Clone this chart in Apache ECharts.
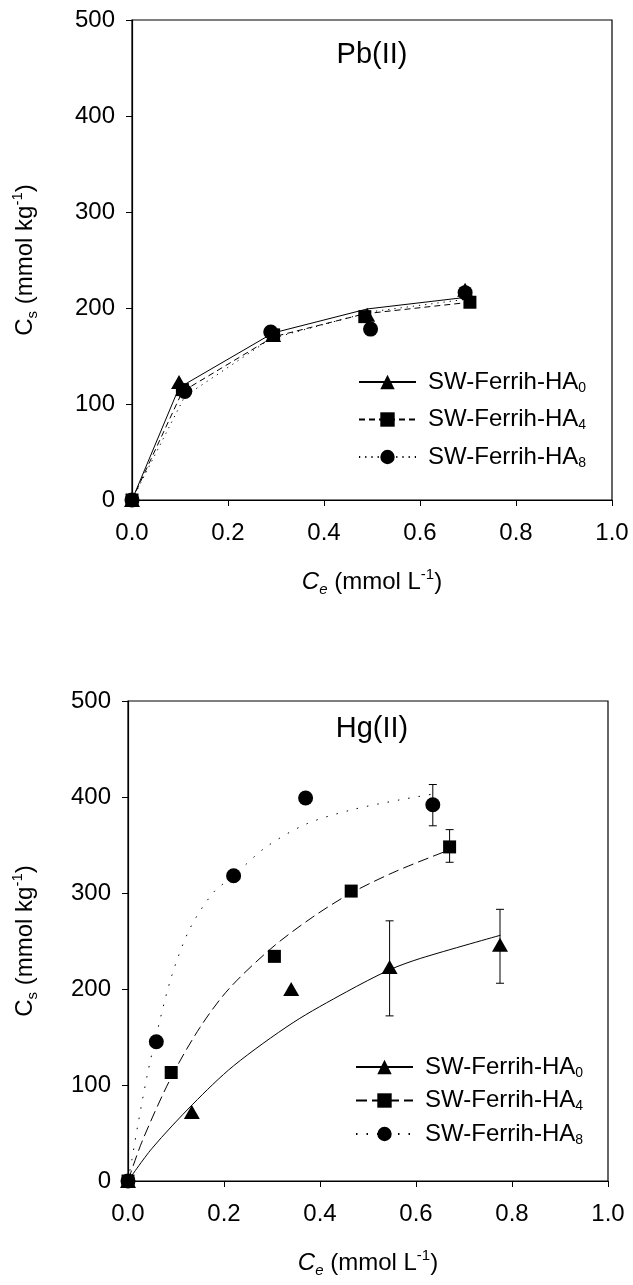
<!DOCTYPE html>
<html>
<head>
<meta charset="utf-8">
<script src="https://cdn.jsdelivr.net/npm/echarts/dist/echarts.min.js"></script>
<style>
html, body { margin: 0; padding: 0; background: #fff; }
#chart { width: 633px; height: 1285px; }
</style>
</head>
<body>
<div id="chart"></div>
<script>
// Pb(II) measured points
var pbX0 = [0, 0.098, 0.294, 0.49, 0.694];
var pbY0 = [0, 123, 172, 193, 219];
var pbX4 = [0, 0.105, 0.295, 0.485, 0.704];
var pbY4 = [0, 115, 172, 191, 206];
var pbX8 = [0, 0.11, 0.289, 0.497, 0.694];
var pbY8 = [0, 113, 175, 178, 216];
// Pb(II) fitted lines
var pbFitX0 = [0, 0.098, 0.294, 0.49, 0.694];
var pbFit0 = [0, 117, 174, 199, 211];
var pbFitX4 = [0, 0.105, 0.295, 0.485, 0.704];
var pbFit4 = [0, 113, 170, 194, 206];
var pbFitX8 = [0, 0.11, 0.289, 0.497, 0.694];
var pbFit8 = [0, 108, 168, 196, 209];

// Hg(II) measured points
var hgX0 = [0, 0.133, 0.34, 0.545, 0.775];
var hgY0 = [0, 72, 200, 223, 246];
var hgX4 = [0, 0.09, 0.305, 0.465, 0.67];
var hgY4 = [0, 113, 234, 302, 348];
var hgX8 = [0, 0.059, 0.22, 0.37, 0.635];
var hgY8 = [0, 145, 318, 399, 392];
// Hg(II) error bars
var hgErrX = [0.545, 0.775, 0.67, 0.635];
var hgErrLow = [172, 206, 332, 370];
var hgErrHigh = [271, 283, 366, 413];
// Hg(II) fitted curves
var hgFitX0 = [0, 0.05, 0.135, 0.22, 0.344, 0.455, 0.545, 0.61, 0.776];
var hgFit0 = [0, 34, 80, 120, 165, 197, 220, 232, 256];
var hgFitX4 = [0, 0.03, 0.09, 0.15, 0.21, 0.3, 0.385, 0.465, 0.56, 0.67];
var hgFit4 = [0, 42, 108, 160, 200, 243, 275, 300, 323, 345];
var hgFitX8 = [0, 0.008, 0.02, 0.04, 0.059, 0.09, 0.128, 0.177, 0.22, 0.288, 0.372, 0.469, 0.566, 0.635];
var hgFit8 = [0, 22, 57, 110, 152, 212, 262, 300, 318, 348, 372, 387, 397, 403];

var xTicks = [0, 0.2, 0.4, 0.6, 0.8, 1.0];
var yTicks = [0, 100, 200, 300, 400, 500];

var FONT = '"Liberation Sans", Arial, sans-serif';

function pairs(xs, ys) {
  return xs.map(function (x, i) { return [x, ys[i]]; });
}

var kinds = [
  { key: '0', symbol: 'triangle', size: [16, 14], dash: 'solid', dashHg: 'solid' },
  { key: '4', symbol: 'rect', size: 13, dash: [6, 4], dashHg: [11, 5] },
  { key: '8', symbol: 'circle', size: 15, dash: [1.2, 5], dashHg: [1.5, 9] }
];

var pbPts = [pairs(pbX0, pbY0), pairs(pbX4, pbY4), pairs(pbX8, pbY8)];
var pbFit = [pairs(pbFitX0, pbFit0), pairs(pbFitX4, pbFit4), pairs(pbFitX8, pbFit8)];
var hgPts = [pairs(hgX0, hgY0), pairs(hgX4, hgY4), pairs(hgX8, hgY8)];
var hgFit = [pairs(hgFitX0, hgFit0), pairs(hgFitX4, hgFit4), pairs(hgFitX8, hgFit8)];

var series = [];
[['Pb', 0, pbPts, pbFit, false], ['Hg', 1, hgPts, hgFit, true]].forEach(function (p) {
  kinds.forEach(function (k, i) {
    series.push({
      name: p[0] + '-HA' + k.key,
      type: 'line',
      xAxisIndex: p[1], yAxisIndex: p[1],
      data: p[3][i],
      showSymbol: false,
      symbol: k.symbol,
      smooth: p[4] ? 0.3 : false,
      lineStyle: { color: '#000', width: 1, type: p[4] ? k.dashHg : k.dash },
      itemStyle: { color: '#000' },
      silent: true,
      z: 2
    });
  });
  kinds.forEach(function (k, i) {
    series.push({
      name: p[0] + '-pts-' + k.key,
      type: 'scatter',
      xAxisIndex: p[1], yAxisIndex: p[1],
      data: p[2][i],
      symbol: k.symbol,
      symbolSize: k.size,
      itemStyle: { color: '#000', opacity: 1 },
      silent: true,
      z: 3
    });
  });
});

series.push({
  type: 'custom',
  xAxisIndex: 1, yAxisIndex: 1,
  data: hgErrX.map(function (x, i) { return [x, hgErrLow[i], hgErrHigh[i]]; }),
  encode: { x: 0, y: [1, 2] },
  silent: true,
  z: 1,
  renderItem: function (params, api) {
    var lo = api.coord([api.value(0), api.value(1)]);
    var hi = api.coord([api.value(0), api.value(2)]);
    var w = 4;
    var st = { stroke: '#000', lineWidth: 1 };
    return {
      type: 'group',
      children: [
        { type: 'line', shape: { x1: lo[0], y1: lo[1], x2: hi[0], y2: hi[1] }, style: st },
        { type: 'line', shape: { x1: lo[0] - w, y1: lo[1], x2: lo[0] + w, y2: lo[1] }, style: st },
        { type: 'line', shape: { x1: hi[0] - w, y1: hi[1], x2: hi[0] + w, y2: hi[1] }, style: st }
      ]
    };
  }
});

var nameRich = {
  n: { fontFamily: FONT, fontSize: 24, color: '#000', lineHeight: 30 },
  i: { fontFamily: FONT, fontSize: 24, color: '#000', lineHeight: 30, fontStyle: 'italic' },
  sub: { fontFamily: FONT, fontSize: 15, color: '#000', lineHeight: 14, verticalAlign: 'bottom' },
  isub: { fontFamily: FONT, fontSize: 15, color: '#000', lineHeight: 14, verticalAlign: 'bottom', fontStyle: 'italic' },
  sup: { fontFamily: FONT, fontSize: 15, color: '#000', lineHeight: 14, verticalAlign: 'top' }
};

function xAxisFor(idx) {
  return {
    type: 'value', gridIndex: idx, min: xTicks[0], max: xTicks[xTicks.length - 1], interval: 0.2,
    name: '{i|C}{isub|e}{n| (mmol L}{sup|-1}{n|)}',
    nameLocation: 'middle', nameGap: 67,
    nameTextStyle: { rich: nameRich },
    axisLine: { show: true, onZero: false, lineStyle: { color: '#000', width: 1.2 } },
    axisTick: { show: true, inside: false, length: 6, lineStyle: { color: '#000' } },
    axisLabel: { color: '#000', fontFamily: FONT, fontSize: 24, margin: 21,
      formatter: function (v) { return v.toFixed(1); } },
    splitLine: { show: false }
  };
}

function yAxisFor(idx, gap) {
  return {
    type: 'value', gridIndex: idx, min: yTicks[0], max: yTicks[yTicks.length - 1], interval: 100,
    name: '{n|C}{sub|s}{n| (mmol kg}{sup|-1}{n|)}',
    nameLocation: 'middle', nameGap: gap,
    nameTextStyle: { rich: nameRich },
    axisLine: { show: true, onZero: false, lineStyle: { color: '#000', width: 1.2 } },
    axisTick: { show: true, inside: false, length: 6, lineStyle: { color: '#000' } },
    axisLabel: { color: '#000', fontFamily: FONT, fontSize: 24, margin: 17 },
    splitLine: { show: false }
  };
}

function legendFor(prefix, left, top, gap) {
  return {
    orient: 'vertical', left: left, top: top, padding: 0, itemGap: gap,
    itemWidth: 57, itemHeight: 18,
    selectedMode: false,
    data: [prefix + '-HA0', prefix + '-HA4', prefix + '-HA8'],
    formatter: function (name) { return '{a|SW-Ferrih-HA}{s|' + name.slice(-1) + '}'; },
    textStyle: {
      padding: [0, 0, 0, 7],
      rich: {
        a: { fontFamily: FONT, fontSize: 24, color: '#000', lineHeight: 26 },
        s: { fontFamily: FONT, fontSize: 14, color: '#000', lineHeight: 12, verticalAlign: 'bottom' }
      }
    }
  };
}

var chart = echarts.init(document.getElementById('chart'), null, { renderer: 'canvas' });
chart.setOption({
  animation: false,
  backgroundColor: '#fff',
  grid: [
    { left: 132, top: 20, width: 480, height: 480, show: true, borderColor: '#000', borderWidth: 1.2, outerBoundsMode: 'none' },
    { left: 128, top: 701, width: 480, height: 480, show: true, borderColor: '#000', borderWidth: 1.2, outerBoundsMode: 'none' }
  ],
  xAxis: [xAxisFor(0), xAxisFor(1)],
  yAxis: [yAxisFor(0, 92), yAxisFor(1, 88)],
  legend: [legendFor('Pb', 358, 370, 12.5), legendFor('Hg', 355, 1055, 8.5)],
  graphic: [
    { type: 'text', x: 372, y: 55, style: { text: 'Pb(II)', fontFamily: FONT, fontSize: 29, fill: '#000',
      textAlign: 'center', textVerticalAlign: 'middle', align: 'center', verticalAlign: 'middle' } },
    { type: 'text', x: 372, y: 729, style: { text: 'Hg(II)', fontFamily: FONT, fontSize: 29, fill: '#000',
      textAlign: 'center', textVerticalAlign: 'middle', align: 'center', verticalAlign: 'middle' } }
  ],
  series: series
});
</script>
</body>
</html>
